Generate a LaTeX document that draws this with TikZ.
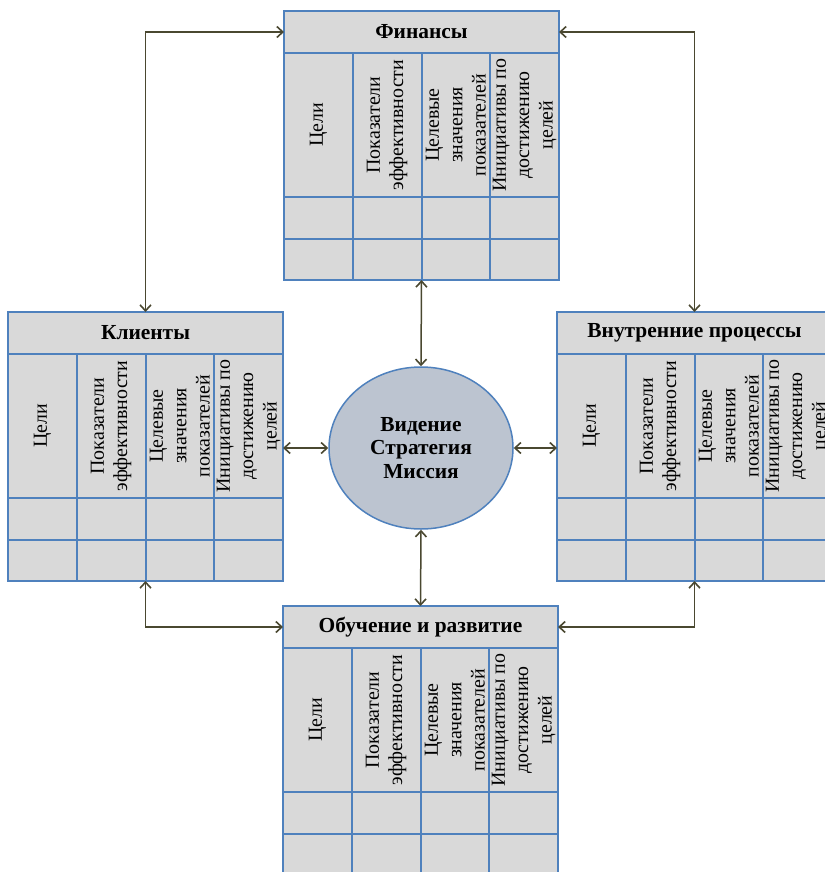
\documentclass[tikz,border=0pt]{standalone}
\usepackage{fontspec}
\setmainfont{Liberation Serif}
\usetikzlibrary{arrows.meta,shapes.geometric}
\definecolor{cellfill}{RGB}{217,217,217}
\definecolor{gridblue}{RGB}{79,129,189}
\definecolor{ovalfill}{RGB}{188,196,208}
\definecolor{linkcol}{RGB}{74,72,48}
\tikzset{
  cell/.style={draw=gridblue, fill=cellfill, line width=2bp, inner sep=0pt, outer sep=0pt, minimum width=68.75bp},
  headcell/.style={cell, minimum width=275bp, minimum height=42bp, font=\fontsize{21.5}{25}\selectfont\bfseries},
  coltext/.style={rotate=90, align=center, inner sep=0pt, font=\fontsize{20}{23.5}\selectfont},
  barb/.tip={Straight Barb[length=6bp,width=11bp,line width=1.6bp]},
  link/.style={draw=linkcol, line width=1.5bp, barb-barb},
}
% one perspective table: name, top-left x, top-left y, title
\newcommand\bsctab[4]{%
  \begin{scope}[shift={(#2,#3)}]
    \node[headcell, anchor=north west] (#1h) at (0,0) {#4};
    \foreach \c/\t in {0/{Цели},1/{Показатели\\эффективности},2/{Целевые\\значения\\показателей},3/{Инициативы по\\достижению\\целей}}{
      \node[cell, minimum height=144bp, anchor=north west] (#1c\c) at (68.75*\c,42) {};
      \node[coltext] (#1t\c) at (#1c\c.center) {\t};
      \node[cell, minimum height=41.5bp, anchor=north west] (#1a\c) at (68.75*\c,186) {};
      \node[cell, minimum height=41.5bp, anchor=north west] (#1b\c) at (68.75*\c,227.5) {};
    }
    \node[inner sep=0pt, outer sep=0pt, minimum width=275bp, minimum height=269bp, anchor=north west] (#1) at (0,0) {};
  \end{scope}}
\begin{document}
\begin{tikzpicture}[x=1bp, y=-1bp]
  \clip (0,0) rectangle (825,872);
  \fill[white] (0,0) rectangle (825,872);

  \bsctab{fin}{284}{11}{Финансы}
  \bsctab{cli}{8}{312}{Клиенты}
  \bsctab{proc}{557}{312}{Внутренние процессы}
  \bsctab{learn}{283}{606}{Обучение и развитие}

  \node[ellipse, draw=gridblue, fill=ovalfill, line width=1.5bp,
        minimum width=184bp, minimum height=162bp, inner sep=0pt,
        align=center, font=\fontsize{21.5}{24}\selectfont\bfseries]
        (vis) at (421,448) {Видение\\Стратегия\\Миссия};

  \draw[link] (finh.west) -| (cli.north);
  \draw[link] (finh.east) -| (proc.north);
  \draw[link] (fin.south) -- (vis.north);
  \draw[link] (vis.south) -- (learn.north);
  \draw[link] (vis.west) -- (vis.west -| cli.east);
  \draw[link] (vis.east) -- (vis.east -| proc.west);
  \draw[link] (cli.south) |- (learnh.west);
  \draw[link] (proc.south) |- (learnh.east);
\end{tikzpicture}
\end{document}
